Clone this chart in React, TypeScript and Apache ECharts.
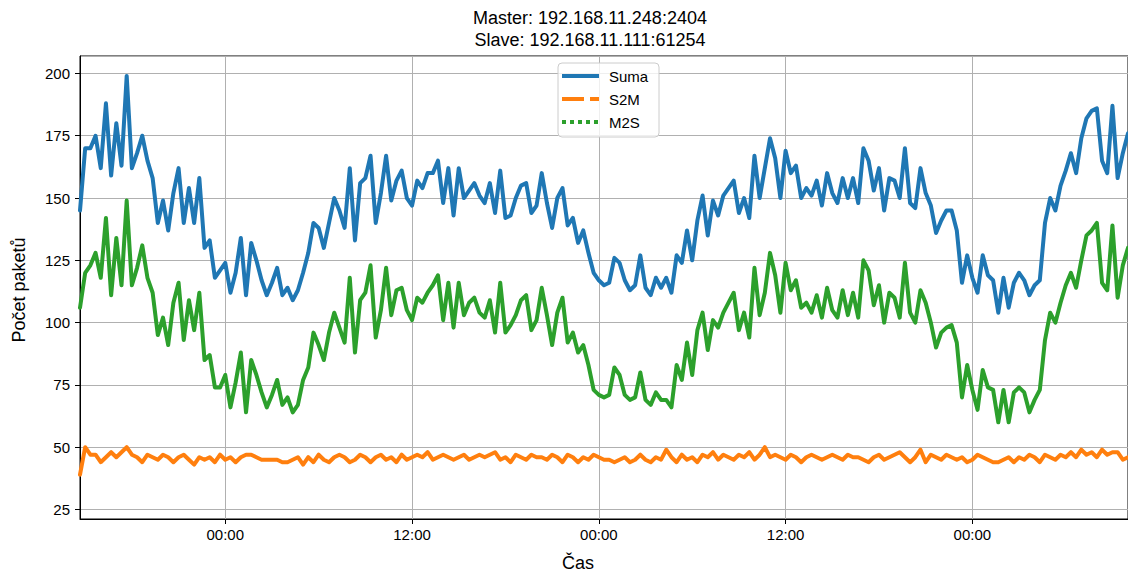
import React, { useEffect, useRef } from 'react';
import * as echarts from 'echarts';

const TITLE_LINES = ['Master: 192.168.11.248:2404', 'Slave: 192.168.11.111:61254'];
const SERIES_NAMES = ['Suma', 'S2M', 'M2S'];
const SERIES_COLORS = ['#1f77b4', '#ff7f0e', '#2ca02c'];
const X_NAME = 'Čas';
const Y_NAME = 'Počet paketů';

// time axis in hours counted from midnight of the first (partial) day
const START_HOUR = 14 + 40 / 60;
const STEP_HOURS = 20 / 60;
const X_TICK_STEP = 12;
const Y_MIN = 21.2;
const Y_MAX = 207;
const Y_TICK_STEP = 25;

const SUMA = [
  145, 170, 170, 175, 162, 188, 159, 180, 163, 199,
  162, 168, 175, 165, 158, 140, 149, 137, 152, 162,
  140, 154, 140, 158, 130, 133, 118, 121, 124, 112,
  120, 134, 111, 132, 125, 117, 111, 116, 122, 111,
  114, 109, 113, 120, 128, 140, 138, 130, 140, 150,
  145, 138, 162, 133, 156, 158, 167, 140, 152, 167,
  149, 157, 161, 150, 147, 157, 154, 160, 160, 165,
  148, 162, 143, 162, 150, 153, 156, 151, 148, 156,
  144, 161, 142, 143, 150, 155, 156, 144, 147, 160,
  148, 138, 150, 154, 139, 142, 132, 137, 128, 120,
  117, 115, 116, 126, 124, 117, 113, 115, 127, 114,
  111, 118, 114, 118, 112, 127, 124, 137, 125, 141,
  151, 135, 149, 143, 151, 154, 157, 144, 150, 142,
  167, 150, 162, 174, 166, 150, 169, 160, 163, 150,
  154, 151, 157, 147, 160, 152, 148, 158, 150, 158,
  148, 170, 165, 153, 162, 145, 158, 157, 150, 170,
  148, 146, 162, 152, 147, 136, 141, 145, 145, 137,
  116, 127, 118, 112, 127, 119, 117, 104, 118, 106,
  116, 120, 117, 111, 115, 117, 140, 150, 145, 155,
  161, 168, 160, 174, 182, 185, 186, 165, 160, 187,
  158, 168, 176,
];

const S2M = [
  39, 50, 47, 47, 44, 46, 48, 46, 48, 50,
  47, 46, 44, 47, 46, 45, 47, 46, 44, 46,
  47, 45, 43, 46, 45, 46, 44, 47, 45, 46,
  44, 46, 47, 47, 46, 45, 45, 45, 45, 44,
  44, 45, 46, 43, 46, 44, 47, 45, 44, 46,
  47, 46, 44, 45, 47, 46, 44, 46, 47, 45,
  46, 44, 47, 45, 46, 47, 46, 48, 45, 46,
  47, 46, 45, 46, 47, 45, 46, 47, 46, 47,
  48, 45, 46, 44, 47, 46, 45, 47, 46, 46,
  45, 47, 46, 44, 47, 46, 44, 46, 45, 47,
  46, 45, 45, 44, 45, 46, 44, 45, 47, 45,
  44, 46, 45, 49, 46, 44, 47, 45, 46, 44,
  47, 46, 48, 45, 47, 46, 45, 47, 46, 48,
  45, 47, 50, 46, 47, 46, 45, 47, 46, 44,
  46, 47, 46, 45, 46, 47, 46, 45, 47, 46,
  46, 45, 44, 46, 47, 45, 46, 47, 48, 46,
  44, 46, 49, 44, 47, 46, 45, 47, 46, 45,
  46, 44, 45, 47, 46, 45, 44, 44, 45, 46,
  44, 46, 45, 47, 46, 44, 47, 46, 45, 47,
  46, 48, 46, 49, 47, 48, 46, 49, 47, 48,
  48, 45, 46,
];

const M2S = [
  106, 120, 123, 128, 118, 142, 111, 134, 115, 149,
  115, 122, 131, 118, 112, 95, 102, 91, 108, 116,
  93, 109, 97, 112, 85, 87, 74, 74, 79, 66,
  76, 88, 64, 85, 79, 72, 66, 71, 77, 67,
  70, 64, 67, 77, 82, 96, 91, 85, 96, 104,
  98, 92, 118, 88, 109, 112, 123, 94, 105, 122,
  103, 113, 114, 105, 101, 110, 108, 112, 115, 119,
  101, 116, 98, 116, 103, 108, 110, 104, 102, 109,
  96, 116, 96, 99, 103, 109, 111, 97, 101, 114,
  103, 91, 104, 110, 92, 96, 88, 91, 83, 73,
  71, 70, 71, 82, 79, 71, 69, 70, 80, 69,
  67, 72, 69, 69, 66, 83, 77, 92, 79, 97,
  104, 89, 101, 98, 104, 108, 112, 97, 104, 94,
  122, 103, 112, 128, 119, 104, 124, 113, 117, 106,
  108, 104, 111, 102, 114, 105, 102, 113, 103, 112,
  102, 125, 121, 107, 115, 100, 112, 110, 102, 124,
  104, 100, 113, 108, 100, 90, 96, 98, 99, 92,
  70, 83, 73, 65, 81, 74, 73, 60, 73, 60,
  72, 74, 72, 64, 69, 73, 93, 104, 100, 108,
  115, 120, 114, 125, 135, 137, 140, 116, 113, 139,
  110, 123, 130,
];

const VALUES = [SUMA, S2M, M2S];
const END_HOUR = START_HOUR + (SUMA.length - 1) * STEP_HOURS;

const FONT = '"Liberation Sans", Arial, Helvetica, sans-serif';

function hourLabel(v: number): string {
  const h = ((Math.round(v) % 24) + 24) % 24;
  return `${String(h).padStart(2, '0')}:00`;
}

function txt(x: number, y: number, text: string, size: number, align: string, vAlign: string, extra: any = {}) {
  return {
    type: 'text',
    x,
    y,
    ...extra,
    style: {
      text,
      fill: '#000',
      fontSize: size,
      fontFamily: FONT,
      align,
      verticalAlign: vAlign,
      textAlign: align,
      textVerticalAlign: vAlign,
      lineHeight: 22,
    },
  };
}

export default function App() {
  const ref = useRef<HTMLDivElement>(null);

  useEffect(() => {
    if (!ref.current) return;
    const chart = echarts.init(ref.current, undefined, { renderer: 'svg' });

    const axisCommon = {
      axisLine: { show: true, onZero: false, lineStyle: { color: '#000', width: 1 } },
      axisTick: { show: true, length: 5, lineStyle: { color: '#000', width: 1 } },
      splitLine: { show: true, lineStyle: { color: '#b0b0b0', width: 1 } },
    };

    const legendRows = [76, 99, 122];
    const dashes: any[] = [null, [22, 6], [4, 4]];

    const graphic: any[] = [
      txt(590, 7, TITLE_LINES.join('\n'), 18, 'center', 'top'),
      txt(578, 563, X_NAME, 18, 'center', 'middle'),
      txt(19, 290, Y_NAME, 18, 'center', 'middle', { rotation: Math.PI / 2 }),
      {
        type: 'rect',
        shape: { x: 558, y: 63, width: 101, height: 74, r: 4 },
        style: { fill: 'rgba(255,255,255,0.8)', stroke: '#cccccc', lineWidth: 1 },
        z: 100,
      },
    ];
    SERIES_NAMES.forEach((name, k) => {
      graphic.push({
        type: 'line',
        shape: { x1: 562, y1: legendRows[k], x2: 599, y2: legendRows[k] },
        style: {
          stroke: SERIES_COLORS[k],
          lineWidth: 4,
          lineDash: dashes[k] || undefined,
          lineCap: 'butt',
        },
        z: 101,
      });
      graphic.push({ ...txt(609, legendRows[k], name, 15, 'left', 'middle'), z: 101 });
    });

    chart.setOption({
      animation: false,
      grid: {
        left: 80,
        top: 56,
        width: 1048,
        height: 463,
        show: true,
        borderColor: '#000',
        borderWidth: 1,
        backgroundColor: 'transparent',
      },
      xAxis: {
        type: 'value',
        min: START_HOUR,
        max: END_HOUR,
        minInterval: X_TICK_STEP,
        maxInterval: X_TICK_STEP,
        ...axisCommon,
        axisLabel: {
          color: '#000',
          fontSize: 15,
          fontFamily: FONT,
          margin: 8,
          showMinLabel: false,
          showMaxLabel: false,
          formatter: (v: number) => hourLabel(v),
        },
      },
      yAxis: {
        type: 'value',
        min: Y_MIN,
        max: Y_MAX,
        minInterval: Y_TICK_STEP,
        maxInterval: Y_TICK_STEP,
        ...axisCommon,
        axisLabel: {
          color: '#000',
          fontSize: 15,
          fontFamily: FONT,
          margin: 10,
          showMinLabel: false,
          showMaxLabel: false,
        },
      },
      series: SERIES_NAMES.map((name, k) => ({
        name,
        type: 'line',
        showSymbol: false,
        symbol: 'none',
        silent: true,
        lineStyle: { color: SERIES_COLORS[k], width: 4, join: 'round', cap: 'round' },
        itemStyle: { color: SERIES_COLORS[k] },
        data: VALUES[k].map((v, i) => [START_HOUR + i * STEP_HOURS, v]),
      })),
      graphic,
    });

    return () => chart.dispose();
  }, []);

  return (
    <div
      ref={ref}
      style={{ position: 'absolute', left: 0, top: 0, width: 1128, height: 574, background: '#fff' }}
    />
  );
}
